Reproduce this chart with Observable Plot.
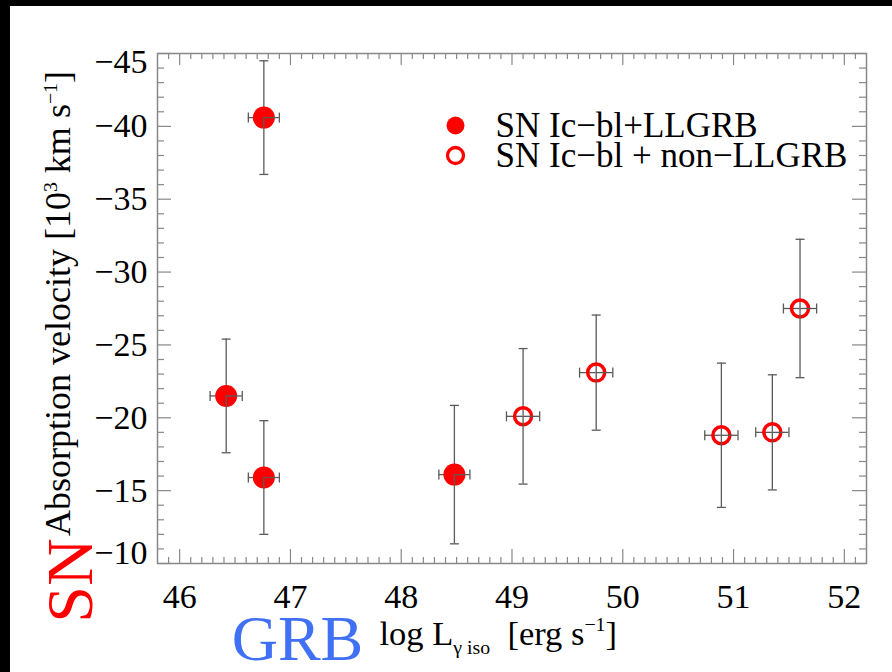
<!DOCTYPE html>
<html>
<head>
<meta charset="utf-8">
<script src="https://cdn.jsdelivr.net/npm/d3@7"></script>
<script src="https://cdn.jsdelivr.net/npm/@observablehq/plot@0.6"></script>
<style>
  html, body { margin: 0; padding: 0; background: #000; width: 892px; height: 672px; overflow: hidden; }
  #chart { position: absolute; left: 10px; top: 6px; width: 882px; height: 666px; background: #fff; }
  #chart svg text { font-family: "Liberation Serif", "Times New Roman", serif; }
</style>
</head>
<body>
<div id="chart"></div>
<script>
// SNe Ic-bl associated with low-luminosity GRBs
const llgrbLogL    = [46.76, 46.42, 46.76, 48.48];
const llgrbVel     = [-40.6, -21.5, -15.9, -16.1];
const llgrbLogLErr = [0.14, 0.145, 0.14, 0.14];
const llgrbVelErr  = [3.9, 3.9, 3.9, 4.75];

// SNe Ic-bl associated with ordinary (non-LL) GRBs
const grbLogL    = [49.10, 49.76, 50.89, 51.35, 51.60];
const grbVel     = [-20.1, -23.1, -18.8, -19.0, -27.5];
const grbLogLErr = [0.15, 0.15, 0.15, 0.15, 0.15];
const grbVelErr  = [4.65, 3.95, 4.95, 3.95, 4.75];

const xTicks = [46, 47, 48, 49, 50, 51, 52];
const yTicks = [-45, -40, -35, -30, -25, -20, -15, -10];
const seriesNames = ["SN Ic\u2212bl+LLGRB", "SN Ic\u2212bl + non\u2212LLGRB"];
const xTitle = "log L_{\u03b3 iso}  [erg s^{\u22121}]";
const yTitle = "Absorption velocity [10^{3} km s^{\u22121}]";

const llgrb = llgrbLogL.map((x, i) => ({x, y: llgrbVel[i], ex: llgrbLogLErr[i], ey: llgrbVelErr[i]}));
const grb = grbLogL.map((x, i) => ({x, y: grbVel[i], ex: grbLogLErr[i], ey: grbVelErr[i]}));
const all = llgrb.concat(grb);

// minor ticks: 0.1 dex on x, 1 unit on y
const xMinor = d3.range(459, 522).map(v => v / 10).filter(v => !xTicks.includes(v));
const yMinor = d3.range(-44, -10).filter(v => v % 5 !== 0);

const W = 882, H = 666;
const mL = 147, mR = 26, mT = 47, mB = 109;
const fw = W - mL - mR, fh = H - mT - mB;
const font = "Liberation Serif";
const red = "#ff0000";
const errColor = "#5a5a5a";
const tickColor = "#888";

// error-bar caps
const hCap = {draw(ctx) { ctx.moveTo(-4.5, 0); ctx.lineTo(4.5, 0); }};
const vCap = {draw(ctx) { ctx.moveTo(0, -5); ctx.lineTo(0, 5); }};

const fmt = v => (v < 0 ? "\u2212" : "") + Math.abs(v);
const txt = {fontFamily: font, fill: "#000", textAnchor: "middle", lineAnchor: "middle"};

const errLow = [
  Plot.ruleX(all, {x: "x", y1: d => d.y - d.ey, y2: "y", stroke: errColor, strokeWidth: 1.3}),
  Plot.ruleY(all, {y: "y", x1: d => d.x - d.ex, x2: "x", stroke: errColor, strokeWidth: 1.3}),
  Plot.dot(all, {x: "x", y: d => d.y - d.ey, symbol: hCap, r: 5, stroke: errColor, fill: "none", strokeWidth: 1.3}),
  Plot.dot(all, {x: d => d.x - d.ex, y: "y", symbol: vCap, r: 5, stroke: errColor, fill: "none", strokeWidth: 1.3})
];
const errHigh = [
  Plot.ruleX(all, {x: "x", y1: "y", y2: d => d.y + d.ey, stroke: errColor, strokeWidth: 1.3}),
  Plot.ruleY(all, {y: "y", x1: "x", x2: d => d.x + d.ex, stroke: errColor, strokeWidth: 1.3}),
  Plot.dot(all, {x: "x", y: d => d.y + d.ey, symbol: hCap, r: 5, stroke: errColor, fill: "none", strokeWidth: 1.3}),
  Plot.dot(all, {x: d => d.x + d.ex, y: "y", symbol: vCap, r: 5, stroke: errColor, fill: "none", strokeWidth: 1.3})
];

const plot = Plot.plot({
  width: W, height: H,
  marginLeft: mL, marginRight: mR, marginTop: mT, marginBottom: mB,
  x: {domain: [45.8, 52.2], axis: null},
  y: {domain: [-10, -45], axis: null},
  style: {fontFamily: font, background: "transparent", overflow: "visible"},
  marks: [
    // inward ticks on all four sides
    Plot.tickX(xTicks, {x: d => d, insetTop: fh - 14, stroke: tickColor, strokeWidth: 1.2}),
    Plot.tickX(xTicks, {x: d => d, insetBottom: fh - 12, stroke: tickColor, strokeWidth: 1.2}),
    Plot.tickX(xMinor, {x: d => d, insetTop: fh - 6, stroke: tickColor, strokeWidth: 1.2}),
    Plot.tickX(xMinor, {x: d => d, insetBottom: fh - 6, stroke: tickColor, strokeWidth: 1.2}),
    Plot.tickY(yTicks, {y: d => d, insetRight: fw - 14, stroke: tickColor, strokeWidth: 1.2}),
    Plot.tickY(yTicks, {y: d => d, insetLeft: fw - 14, stroke: tickColor, strokeWidth: 1.2}),
    Plot.tickY(yMinor, {y: d => d, insetRight: fw - 7, stroke: tickColor, strokeWidth: 1.2}),
    Plot.tickY(yMinor, {y: d => d, insetLeft: fw - 7, stroke: tickColor, strokeWidth: 1.2}),
    Plot.frame({stroke: tickColor, strokeWidth: 1.5}),

    // tick labels
    Plot.text(xTicks, {...txt, x: d => d, frameAnchor: "bottom", dy: 34, text: d => String(d), fontSize: 34}),
    Plot.text(yTicks.slice(1, -1), {...txt, y: d => d, frameAnchor: "left", dx: -10, textAnchor: "end", text: fmt, fontSize: 34}),
    Plot.text(yTicks.slice(0, 1), {...txt, y: d => d, frameAnchor: "left", dx: -10, dy: 9, textAnchor: "end", text: fmt, fontSize: 34}),
    Plot.text(yTicks.slice(-1), {...txt, y: d => d, frameAnchor: "left", dx: -10, dy: -10, textAnchor: "end", text: fmt, fontSize: 34}),

    // data
    ...errLow,
    Plot.dot(llgrb, {x: "x", y: "y", r: 11, fill: red}),
    Plot.dot(grb, {x: "x", y: "y", r: 8.5, stroke: red, strokeWidth: 3.5, fill: "none"}),
    ...errHigh,

    // legend
    Plot.dot([seriesNames[0]], {frameAnchor: "top-left", dx: 298, dy: 72, r: 9, fill: red}),
    Plot.dot([seriesNames[1]], {frameAnchor: "top-left", dx: 298, dy: 102, r: 8, stroke: red, strokeWidth: 3.3, fill: "none"}),
    Plot.text([seriesNames[0]], {...txt, frameAnchor: "top-left", dx: 338, dy: 72, textAnchor: "start", fontSize: 35}),
    Plot.text([seriesNames[1]], {...txt, frameAnchor: "top-left", dx: 338, dy: 102, textAnchor: "start", fontSize: 35}),

    // axis titles
    Plot.text([yTitle], {...txt, frameAnchor: "left", rotate: -90, dx: -99, dy: -5, fontSize: 36}),
    Plot.text([xTitle], {...txt, frameAnchor: "bottom-left", dx: 222, dy: 70, textAnchor: "start", fontSize: 34.5}),
    Plot.text(["SN"], {...txt, frameAnchor: "bottom-left", rotate: -90, dx: -87, dy: 17, fontSize: 66, fill: red}),
    Plot.text(["GRB"], {...txt, frameAnchor: "bottom-left", dx: 140, dy: 76, fontSize: 64, fill: "#4070f4"})
  ]
});

// turn ^{...} / _{...} markup into super- and subscript tspans
d3.select(plot).selectAll("text").each(function() {
  const s = this.textContent;
  if (!/[\^_]\{/.test(s)) return;
  const fs = parseFloat(this.getAttribute("font-size")) || 32;
  const el = d3.select(this);
  el.text(null);
  const re = /([\^_])\{([^}]*)\}/g;
  let last = 0, m, shift = 0;
  const add = (t, dyPx, size) => {
    const sp = el.append("tspan").text(t);
    if (dyPx) sp.attr("dy", dyPx);
    if (size) sp.attr("font-size", size);
  };
  while ((m = re.exec(s))) {
    if (m.index > last) { add(s.slice(last, m.index), -shift); shift = 0; }
    const off = m[1] === "^" ? -0.42 * fs : 0.28 * fs;
    add(m[2], off - shift, 0.62 * fs);
    shift = off;
    last = re.lastIndex;
  }
  if (last < s.length) add(s.slice(last), -shift);
});

document.getElementById("chart").appendChild(plot);
</script>
</body>
</html>
